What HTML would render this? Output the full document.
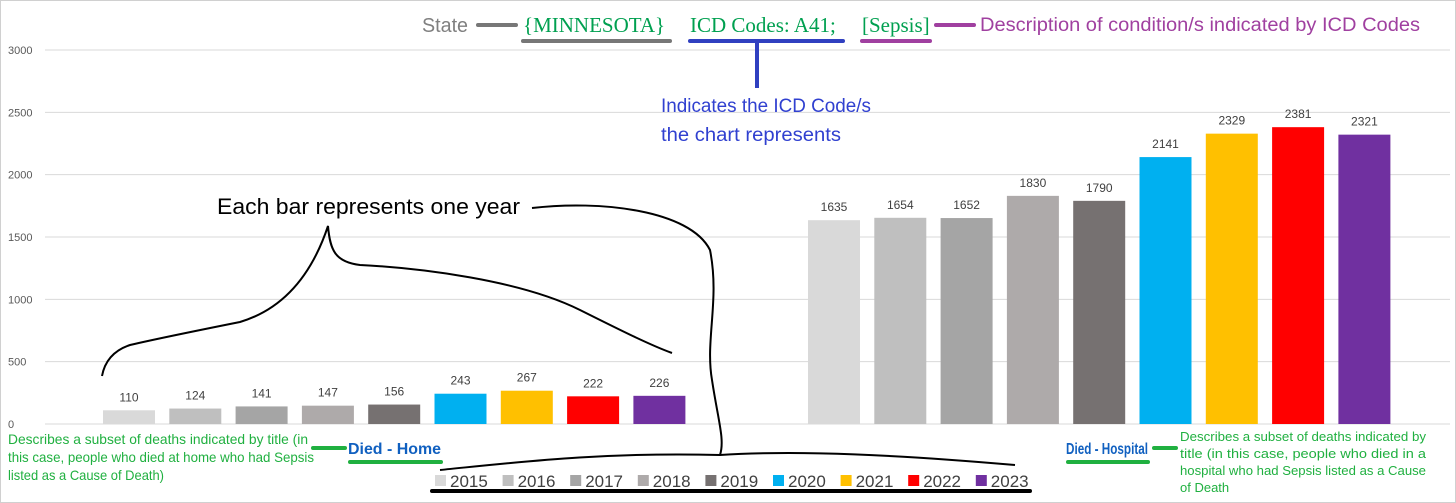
<!DOCTYPE html>
<html><head><meta charset="utf-8">
<style>
body{margin:0;width:1456px;height:503px;overflow:hidden;background:#fff;font-family:"Liberation Sans",sans-serif}
svg{position:absolute;left:0;top:0}
</style></head>
<body>
<svg id="c" width="1456" height="503">
<rect x="0.5" y="0.5" width="1455" height="502" fill="none" stroke="#d0d0d0"/>
<g id="grid"></g><g id="bars"></g><g id="legend"></g>
<g>
<text x="422" y="32" font-size="20" fill="#808080" textLength="46" lengthAdjust="spacingAndGlyphs">State</text>
<line x1="478" y1="25" x2="516" y2="25" stroke="#777" stroke-width="4" stroke-linecap="round"/>
<text x="523" y="32" font-size="21" fill="#00a050" font-family="Liberation Serif, serif">{MINNESOTA}</text>
<line x1="523" y1="41" x2="670" y2="41" stroke="#777" stroke-width="4" stroke-linecap="round"/>
<text x="690" y="32" font-size="21" fill="#00a050" font-family="Liberation Serif, serif">ICD Codes: A41;</text>
<line x1="690" y1="41" x2="843" y2="41" stroke="#3040c0" stroke-width="4" stroke-linecap="round"/>
<line x1="757" y1="41" x2="757" y2="88" stroke="#3040c0" stroke-width="4"/>
<text x="862" y="32" font-size="21" fill="#00a050" font-family="Liberation Serif, serif">[Sepsis]</text>
<line x1="862" y1="41" x2="930" y2="41" stroke="#a040a0" stroke-width="4" stroke-linecap="round"/>
<line x1="936" y1="25" x2="974" y2="25" stroke="#a040a0" stroke-width="4" stroke-linecap="round"/>
<text x="980" y="31" font-size="19" fill="#a040a0" textLength="440" lengthAdjust="spacingAndGlyphs">Description of condition/s indicated by ICD Codes</text>
<text x="661" y="112" font-size="19" fill="#3040d0" textLength="210" lengthAdjust="spacingAndGlyphs">Indicates the ICD Code/s</text>
<text x="661" y="141" font-size="19" fill="#3040d0" textLength="180" lengthAdjust="spacingAndGlyphs">the chart represents</text>
<rect x="205" y="190" width="325" height="46" fill="#fff"/>
<text x="217" y="214" font-size="22" fill="#000" textLength="303" lengthAdjust="spacingAndGlyphs">Each bar represents one year</text>
<path d="M102,376 C105,360 115,350 130,345 C160,338 200,330 240,322 C280,310 310,280 328,226 C330,250 335,262 360,265 C420,268 520,280 580,310 C620,330 650,345 672,353" fill="none" stroke="#000" stroke-width="2"/>
<path d="M532,208 C600,200 690,210 710,250 C720,300 705,340 712,380 C718,420 725,440 720,455" fill="none" stroke="#000" stroke-width="2"/>
<path d="M440,470 C520,462 600,452 720,455 C800,450 900,455 1015,465" fill="none" stroke="#000" stroke-width="2"/>
<line x1="432" y1="491" x2="1030" y2="491" stroke="#000" stroke-width="4" stroke-linecap="round"/>
<text x="8" y="444" font-size="14" fill="#20b040" textLength="300" lengthAdjust="spacingAndGlyphs">Describes a subset of deaths indicated  by title (in</text>
<text x="8" y="462" font-size="14" fill="#20b040" textLength="306" lengthAdjust="spacingAndGlyphs">this case, people who died at home who had Sepsis</text>
<text x="8" y="480" font-size="14" fill="#20b040" textLength="156" lengthAdjust="spacingAndGlyphs">listed as a Cause of Death)</text>
<line x1="313" y1="448" x2="345" y2="448" stroke="#20b040" stroke-width="4" stroke-linecap="round"/>
<text x="348" y="454" font-size="16" font-weight="bold" fill="#1060c0" textLength="93" lengthAdjust="spacingAndGlyphs">Died - Home</text>
<line x1="350" y1="462" x2="441" y2="462" stroke="#20b040" stroke-width="4" stroke-linecap="round"/>
<text x="1066" y="454" font-size="16" font-weight="bold" fill="#1060c0" textLength="82" lengthAdjust="spacingAndGlyphs">Died - Hospital</text>
<line x1="1068" y1="462" x2="1148" y2="462" stroke="#20b040" stroke-width="4" stroke-linecap="round"/>
<line x1="1154" y1="448" x2="1176" y2="448" stroke="#20b040" stroke-width="4" stroke-linecap="round"/>
<text x="1180" y="441" font-size="13" fill="#20b040" textLength="246" lengthAdjust="spacingAndGlyphs">Describes a subset of deaths indicated by</text>
<text x="1180" y="458" font-size="13" fill="#20b040" textLength="246" lengthAdjust="spacingAndGlyphs">title (in this case, people who died in a</text>
<text x="1180" y="475" font-size="13" fill="#20b040" textLength="246" lengthAdjust="spacingAndGlyphs">hospital who had Sepsis listed as a Cause</text>
<text x="1180" y="492" font-size="13" fill="#20b040">of Death</text>
</g>
</svg>
<script>
const groups=["Died - Home","Died - Hospital"];
const years=["2015","2016","2017","2018","2019","2020","2021","2022","2023"];
const homeValues=[110,124,141,147,156,243,267,222,226];
const hospitalValues=[1635,1654,1652,1830,1790,2141,2329,2381,2321];
const yTicks=[0,500,1000,1500,2000,2500,3000];
const colors=["#d9d9d9","#bfbfbf","#a5a5a5","#aeaaaa","#767171","#00b0f0","#ffc000","#ff0000","#7030a0"];
const NS="http://www.w3.org/2000/svg";
const y0=424,yTop=50,yMax=3000;
function yS(v){return y0-(v/yMax)*(y0-yTop);}
const plotL=40,groupW=705,barStep=66.3,barW=52;
function xS(g,i){return plotL+g*groupW+89-barW/2+i*barStep;}
function mk(t,a,p){const e=document.createElementNS(NS,t);for(const k in a)e.setAttribute(k,a[k]);p.appendChild(e);return e;}
const grid=document.getElementById('grid');
yTicks.forEach(v=>{
 const l=mk('line',{x1:45,x2:1450,y1:yS(v),y2:yS(v),stroke:'#d9d9d9','stroke-width':1},grid);
 
 
 const t=mk('text',{x:8,y:yS(v)+4,'font-size':11,fill:'#595959'},grid);t.textContent=v;
 
 
});
const bars=document.getElementById('bars');
[homeValues,hospitalValues].forEach((vals,g)=>{
 vals.forEach((v,i)=>{
  const x=xS(g,i);
  const r=mk('rect',{x:x,y:yS(v),width:barW,height:y0-yS(v),fill:colors[i]},bars);
  
  
  const t=mk('text',{x:x+barW/2,y:yS(v)-9,'font-size':12,fill:'#404040','text-anchor':'middle'},bars);t.textContent=v;
  
  
 });
});
const lg=document.getElementById('legend');
years.forEach((yr,i)=>{
 const x=435+i*67.6;
 const r=mk('rect',{x:x,y:475,width:11,height:11,fill:colors[i]},lg);
 
 
 const t=mk('text',{x:x+15,y:487,'font-size':17,fill:'#404040'},lg);t.textContent=yr;
 
 
});
</script>
</body></html>
